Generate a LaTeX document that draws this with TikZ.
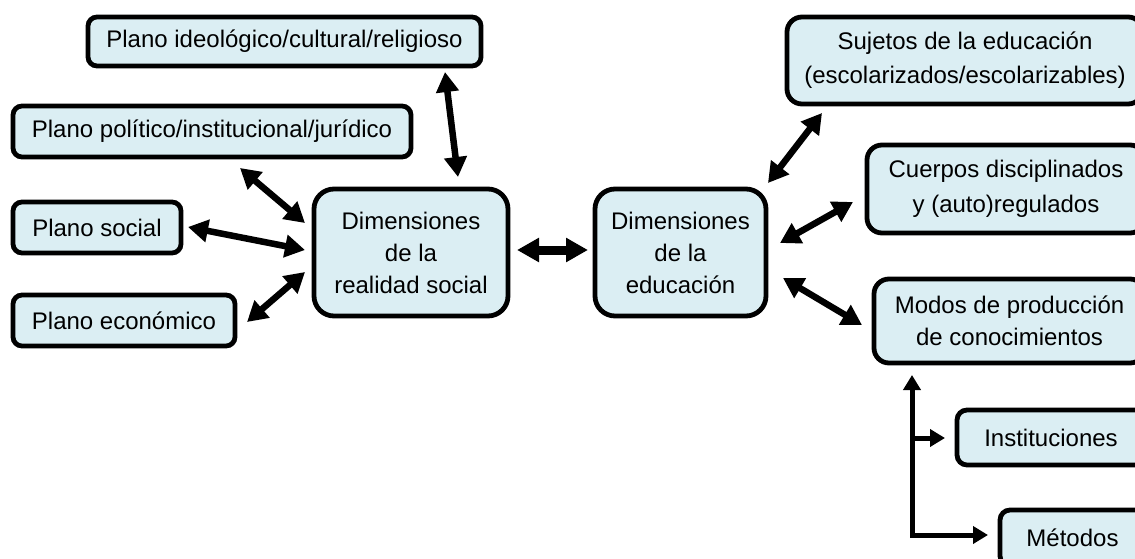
\documentclass[tikz,border=0pt]{standalone}
\usepackage{fontspec}
\setmainfont{Liberation Sans}
\usetikzlibrary{arrows.meta}
\definecolor{boxfill}{RGB}{219,238,243}
\begin{document}
\begin{tikzpicture}[x=1pt,y=-1pt,
  box/.style={draw=black, line width=4.8pt, fill=boxfill, rounded corners=#1,
    align=center, inner sep=0pt, font=\fontsize{24}{32}\selectfont},
  box/.default=9pt,
  dbl/.style={line width=6.5pt, {Triangle[length=20pt,width=22pt]}-{Triangle[length=20pt,width=22pt]}},
  sgl/.style={line width=5pt, -{Triangle[length=15pt,width=17pt]}},
  tree/.style={line width=5pt, {Triangle[length=15pt,width=17pt]}-{Triangle[length=15pt,width=17pt]}}]
\useasboundingbox (0,0) rectangle (1135,559);
% left nodes
\node[box, minimum width=393pt, minimum height=49pt] (ideo) at (284.5,41.5) {Plano ideológico/cultural/religioso};
\node[box, minimum width=398pt, minimum height=51pt] (poli) at (212,131.5) {Plano político/institucional/jurídico};
\node[box, minimum width=168pt, minimum height=51pt] (social) at (97,227.5) {Plano social};
\node[box, minimum width=222pt, minimum height=51pt] (econ) at (124,320.5) {Plano económico};
\node[box=20pt, minimum width=194pt, minimum height=127pt] (real) at (411,252.5) {Dimensiones\\de la\\realidad social};
\node[box=20pt, minimum width=171pt, minimum height=127pt] (edu) at (680.5,252.5) {Dimensiones\\de la\\educación};
% right nodes (cut by the right edge of the picture)
\node[box=15pt, minimum width=356pt, minimum height=87pt, font=\fontsize{24}{34}\selectfont] (suj) at (965,60.5) {Sujetos de la educación\\(escolarizados/escolarizables)};
\node[box=15pt, minimum width=278pt, minimum height=88pt, font=\fontsize{24}{35}\selectfont] (cuer) at (1006,189) {Cuerpos disciplinados\\y (auto)regulados};
\node[box=15pt, minimum width=271pt, minimum height=84pt] (modos) at (1009.5,321) {Modos de producción\\de conocimientos};
\node[box=10pt, minimum width=188pt, minimum height=55pt] (inst) at (1051,437.5) {Instituciones};
\node[box=10pt, minimum width=145pt, minimum height=56pt] (met) at (1072.5,538) {Métodos};
% connector end points
\coordinate (a1) at (445,72);  \coordinate (b1) at (458,177);
\coordinate (a2) at (240,168); \coordinate (b2) at (305,223);
\coordinate (a3) at (188,227); \coordinate (b3) at (305,250);
\coordinate (a4) at (247,322); \coordinate (b4) at (305,272);
\coordinate (a5) at (517,250); \coordinate (b5) at (588,250);
\coordinate (a6) at (768,183); \coordinate (b6) at (822,113);
\coordinate (a7) at (780,243); \coordinate (b7) at (853,202);
\coordinate (a8) at (783,278); \coordinate (b8) at (862,325);
\coordinate (t0) at (912,375); \coordinate (tc) at (912,535);
\coordinate (t1) at (912,438); \coordinate (ti) at (945,438);
\coordinate (tm) at (988,535);
% connectors
\draw[dbl] (a1) -- (b1);
\draw[dbl] (a2) -- (b2);
\draw[dbl] (a3) -- (b3);
\draw[dbl] (a4) -- (b4);
\draw[dbl, line width=9pt, {Triangle[length=22pt,width=23pt]}-{Triangle[length=22pt,width=23pt]}] (a5) -- (b5);
\draw[dbl] (a6) -- (b6);
\draw[dbl] (a7) -- (b7);
\draw[dbl] (a8) -- (b8);
\draw[tree] (t0) -- (tc) -- (tm);
\draw[sgl] (t1) -- (ti);
\end{tikzpicture}
\end{document}
